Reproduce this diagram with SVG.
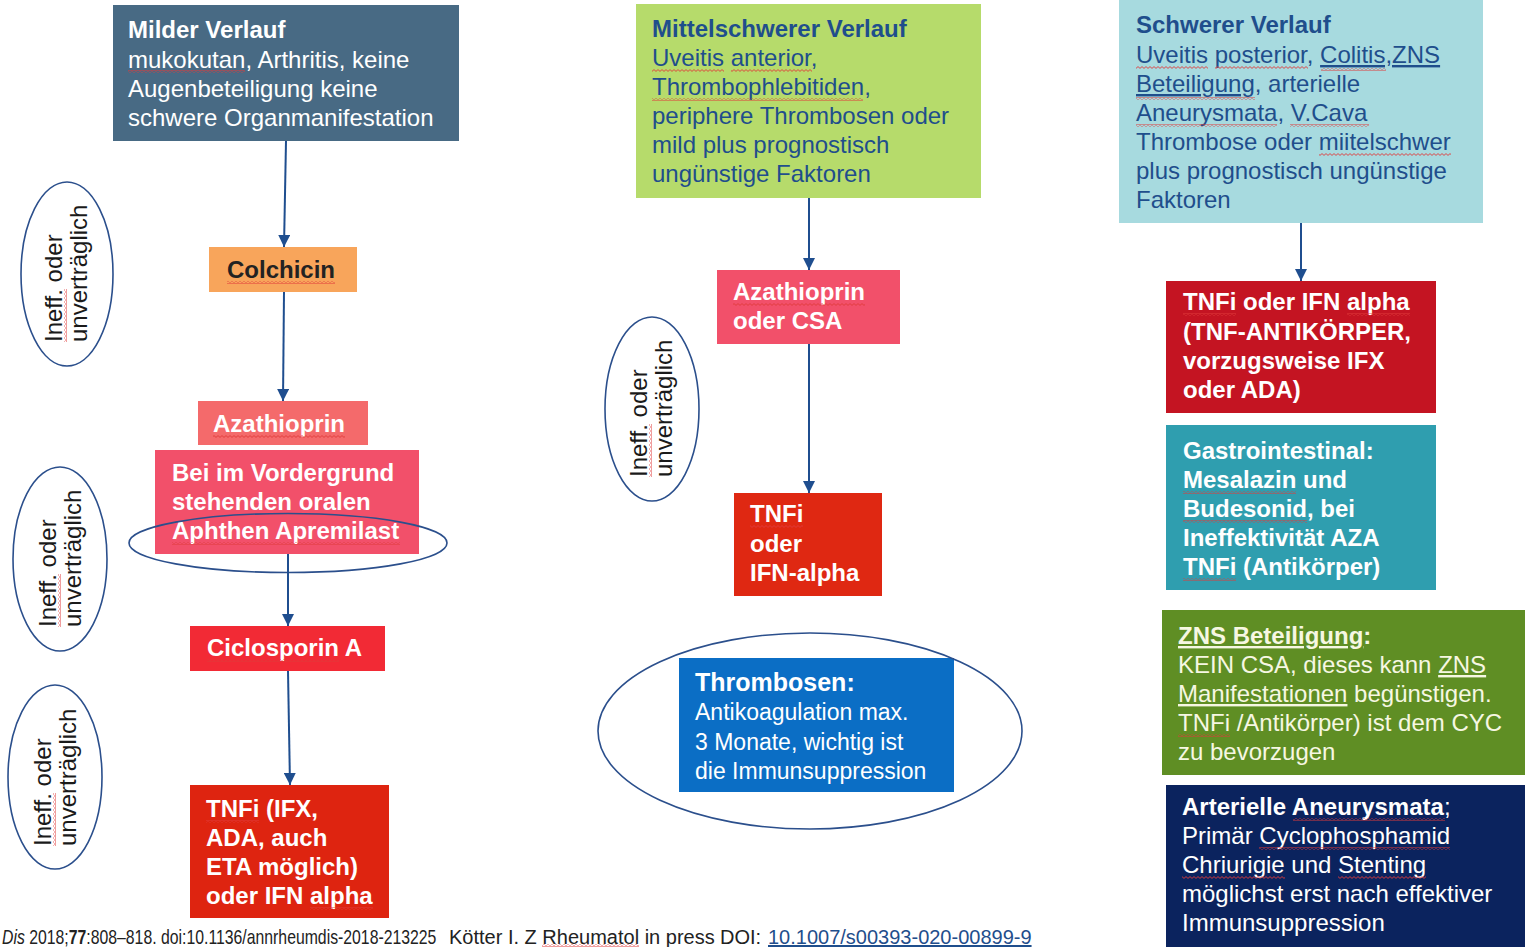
<svg xmlns="http://www.w3.org/2000/svg" width="1525" height="947" viewBox="0 0 1525 947">
<style>
text{font-family:"Liberation Sans",Arial,sans-serif;font-size:24px}
.b{font-weight:bold}
.w{fill:#ffffff}
.dk{fill:#1F4E8C}
.cr{fill:#F6F7E2}
.ell{fill:none;stroke:#2B4F8C;stroke-width:1.6}
.con{fill:none;stroke:#1F4E8F;stroke-width:2;marker-end:url(#ah)}
.wv{fill:url(#wv)}
.side{font-size:24px;fill:#1a1a1a}
.ft{font-size:20px;fill:#222}
</style>
<defs>
<marker id="ah" viewBox="0 0 12 12" refX="12" refY="6" markerWidth="12" markerHeight="12" markerUnits="userSpaceOnUse" orient="auto"><path d="M0,0 L12,6 L0,12 z" fill="#1F4E8F"/></marker>
<pattern id="wv" width="4" height="3" patternUnits="userSpaceOnUse"><path d="M0,2.4 L2,0.6 L4,2.4" fill="none" stroke="#E03A3A" stroke-width="0.9"/></pattern>
</defs>
<rect width="1525" height="947" fill="#ffffff"/>

<!-- Left column -->
<g id="milder">
<rect x="113" y="5" width="346" height="136" fill="#486A84"/>
<text x="128" y="38" class="b w">Milder Verlauf</text>
<text x="128" y="68" class="w">mukokutan, Arthritis, keine</text>
<text x="128" y="97" class="w">Augenbeteiligung keine</text>
<text x="128" y="126" class="w">schwere Organmanifestation</text>
<rect x="128" y="70" width="117" height="3" class="wv"/>
</g>
<g id="colchicin">
<rect x="209" y="247" width="148" height="45" fill="#F8A55B"/>
<text x="227" y="278" class="b" fill="#222">Colchicin</text>
<rect x="227" y="281" width="108" height="3" class="wv"/>
</g>
<g id="azathioprin1">
<rect x="198" y="401" width="170" height="44" fill="#F46A6B"/>
<text x="213" y="432" class="b w">Azathioprin</text>
<rect x="213" y="435" width="132" height="3" class="wv"/>
</g>
<g id="apremilast">
<rect x="155" y="450" width="264" height="104" fill="#F2506A"/>
<text x="172" y="481" class="b w">Bei im Vordergrund</text>
<text x="172" y="510" class="b w">stehenden oralen</text>
<text x="172" y="539" class="b w">Aphthen Apremilast</text>
<rect x="172" y="542" width="228" height="3" class="wv"/>
<ellipse cx="288" cy="543" rx="159" ry="29.5" class="ell"/>
</g>
<g id="ciclosporin">
<rect x="190" y="626" width="195" height="45" fill="#F22A35"/>
<text x="207" y="656" class="b w">Ciclosporin A</text>
<rect x="207" y="659" width="132" height="3" class="wv"/>
</g>
<g id="tnfi1">
<rect x="190" y="785" width="199" height="133" fill="#DE2410"/>
<text x="206" y="817" class="b w">TNFi (IFX,</text>
<text x="206" y="846" class="b w">ADA, auch</text>
<text x="206" y="875" class="b w">ETA möglich)</text>
<text x="206" y="904" class="b w">oder IFN alpha</text>
<rect x="206" y="820" width="53" height="3" class="wv"/>
<rect x="310" y="907" width="63" height="3" class="wv"/>
</g>

<g id="ineff1">
<ellipse cx="67" cy="274" rx="46" ry="92" class="ell"/>
<g transform="translate(62,342) rotate(-90)">
<text x="0" y="0" class="side">Ineff. oder</text>
<text x="0" y="25" class="side">unverträglich</text>
<rect x="0" y="2" width="53" height="3" class="wv"/>
</g>
</g>
<g id="ineff2">
<ellipse cx="60" cy="559" rx="47" ry="92" class="ell"/>
<g transform="translate(56,627) rotate(-90)">
<text x="0" y="0" class="side">Ineff. oder</text>
<text x="0" y="25" class="side">unverträglich</text>
<rect x="0" y="2" width="53" height="3" class="wv"/>
</g>
</g>
<g id="ineff3">
<ellipse cx="55" cy="777" rx="47" ry="92" class="ell"/>
<g transform="translate(51,846) rotate(-90)">
<text x="0" y="0" class="side">Ineff. oder</text>
<text x="0" y="25" class="side">unverträglich</text>
<rect x="0" y="2" width="53" height="3" class="wv"/>
</g>
</g>

<!-- Middle column -->
<g id="mittel">
<rect x="636" y="4" width="345" height="194" fill="#B6DB6B"/>
<text x="652" y="37" class="b dk">Mittelschwerer Verlauf</text>
<text x="652" y="66" class="dk">Uveitis anterior,</text>
<text x="652" y="95" class="dk">Thrombophlebitiden,</text>
<text x="652" y="124" class="dk">periphere Thrombosen oder</text>
<text x="652" y="153" class="dk">mild plus prognostisch</text>
<text x="652" y="182" class="dk">ungünstige Faktoren</text>
<rect x="652" y="69" width="72" height="3" class="wv"/>
<rect x="731" y="69" width="81" height="3" class="wv"/>
<rect x="652" y="98" width="211" height="3" class="wv"/>
</g>
<g id="azacsa">
<rect x="717" y="270" width="183" height="74" fill="#F2506A"/>
<text x="733" y="300" class="b w">Azathioprin</text>
<text x="733" y="329" class="b w">oder CSA</text>
<rect x="733" y="303" width="132" height="3" class="wv"/>
</g>
<g id="tnfi2">
<rect x="734" y="493" width="148" height="103" fill="#DF2812"/>
<text x="750" y="522" class="b w">TNFi</text>
<text x="750" y="552" class="b w">oder</text>
<text x="750" y="581" class="b w">IFN-alpha</text>
<rect x="750" y="525" width="53" height="3" class="wv"/>
</g>
<g id="ineff4">
<ellipse cx="652" cy="409" rx="47" ry="92" class="ell"/>
<g transform="translate(647,477) rotate(-90)">
<text x="0" y="0" class="side">Ineff. oder</text>
<text x="0" y="25" class="side">unverträglich</text>
<rect x="0" y="2" width="53" height="3" class="wv"/>
</g>
</g>
<g id="thrombosen">
<rect x="679" y="658" width="275" height="134" fill="#0B6EC5"/>
<text x="695" y="691" class="b w" style="font-size:25px">Thrombosen:</text>
<text x="695" y="720" class="w" style="font-size:23px">Antikoagulation max.</text>
<text x="695" y="750" class="w" style="font-size:23px">3 Monate, wichtig ist</text>
<text x="695" y="779" class="w" style="font-size:23px">die Immunsuppression</text>
<ellipse cx="810" cy="731" rx="212" ry="98" class="ell"/>
</g>

<!-- Right column -->
<g id="schwer">
<rect x="1119" y="0" width="364" height="223" fill="#A7DADF"/>
<text x="1136" y="33" class="b dk">Schwerer Verlauf</text>
<text x="1136" y="63" class="dk">Uveitis posterior, <tspan text-decoration="underline">Colitis,ZNS</tspan></text>
<text x="1136" y="92" class="dk"><tspan text-decoration="underline">Beteiligung</tspan>, arterielle</text>
<text x="1136" y="121" class="dk">Aneurysmata, V.Cava</text>
<text x="1136" y="150" class="dk">Thrombose oder miitelschwer</text>
<text x="1136" y="179" class="dk">plus prognostisch ungünstige</text>
<text x="1136" y="208" class="dk">Faktoren</text>
<rect x="1136" y="66" width="72" height="3" class="wv"/>
<rect x="1215" y="66" width="93" height="3" class="wv"/>
<rect x="1321" y="68" width="65" height="3" class="wv"/>
<rect x="1136" y="97" width="119" height="3" class="wv"/>
<rect x="1136" y="124" width="141" height="3" class="wv"/>
<rect x="1290" y="124" width="79" height="3" class="wv"/>
<rect x="1319" y="153" width="132" height="3" class="wv"/>
</g>
<g id="tnfi3">
<rect x="1166" y="281" width="270" height="132" fill="#C41422"/>
<text x="1183" y="310" class="b w">TNFi oder IFN alpha</text>
<text x="1183" y="340" class="b w">(TNF-ANTIKÖRPER,</text>
<text x="1183" y="369" class="b w">vorzugsweise IFX</text>
<text x="1183" y="398" class="b w">oder ADA)</text>
<rect x="1183" y="313" width="53" height="3" class="wv"/>
<rect x="1347" y="313" width="63" height="3" class="wv"/>
</g>
<g id="gastro">
<rect x="1166" y="425" width="270" height="165" fill="#2F9EAF"/>
<text x="1183" y="459" class="b w">Gastrointestinal:</text>
<text x="1183" y="488" class="b w">Mesalazin und</text>
<text x="1183" y="517" class="b w">Budesonid, bei</text>
<text x="1183" y="546" class="b w">Ineffektivität AZA</text>
<text x="1183" y="575" class="b w">TNFi (Antikörper)</text>
<rect x="1183" y="491" width="113" height="3" class="wv"/>
<rect x="1183" y="520" width="124" height="3" class="wv"/>
<rect x="1183" y="578" width="53" height="3" class="wv"/>
</g>
<g id="zns">
<rect x="1162" y="610" width="363" height="165" fill="#5F8E24"/>
<text x="1178" y="644" class="b cr"><tspan text-decoration="underline">ZNS Beteiligung</tspan>:</text>
<text x="1178" y="673" class="cr">KEIN CSA, dieses kann <tspan text-decoration="underline">ZNS </tspan></text>
<text x="1178" y="702" class="cr"><tspan text-decoration="underline">Manifestationen</tspan> begünstigen.</text>
<text x="1178" y="731" class="cr">TNFi /Antikörper) ist dem CYC</text>
<text x="1178" y="760" class="cr">zu bevorzugen</text>
<rect x="1178" y="734" width="52" height="3" class="wv"/>
</g>
<g id="arteriell">
<rect x="1166" y="785" width="359" height="162" fill="#0B235E"/>
<text x="1182" y="815" class="w"><tspan class="b">Arterielle Aneurysmata</tspan>;</text>
<text x="1182" y="844" class="w">Primär Cyclophosphamid</text>
<text x="1182" y="873" class="w">Chriurigie und Stenting</text>
<text x="1182" y="902" class="w">möglichst erst nach effektiver</text>
<text x="1182" y="931" class="w">Immunsuppression</text>
<rect x="1293" y="818" width="152" height="3" class="wv"/>
<rect x="1259" y="847" width="191" height="3" class="wv"/>
<rect x="1182" y="876" width="103" height="3" class="wv"/>
<rect x="1338" y="876" width="88" height="3" class="wv"/>
</g>

<g id="connectors">
<path class="con" d="M286,141 L284,247"/>
<path class="con" d="M284,292 L283,401"/>
<path class="con" d="M288,554 L288,626"/>
<path class="con" d="M288,671 L290,785"/>
<path class="con" d="M809,198 L809,270"/>
<path class="con" d="M809,344 L809,493"/>
<path class="con" d="M1301,223 L1301,281"/>
</g>

<g id="footer">
<text transform="translate(2,944) scale(0.79,1)" class="ft"><tspan font-style="italic">Dis</tspan> 2018;<tspan class="b">77</tspan>:808–818. doi:10.1136/annrheumdis-2018-213225</text>
<text x="449" y="944" class="ft">Kötter I. Z Rheumatol in press</text>
<text x="720" y="944" class="ft">DOI:</text>
<text x="768" y="944" class="ft" style="fill:#1F4E8C" text-decoration="underline">10.1007/s00393-020-00899-9</text>
<rect x="542" y="944" width="97" height="3" class="wv"/>
</g>
</svg>
